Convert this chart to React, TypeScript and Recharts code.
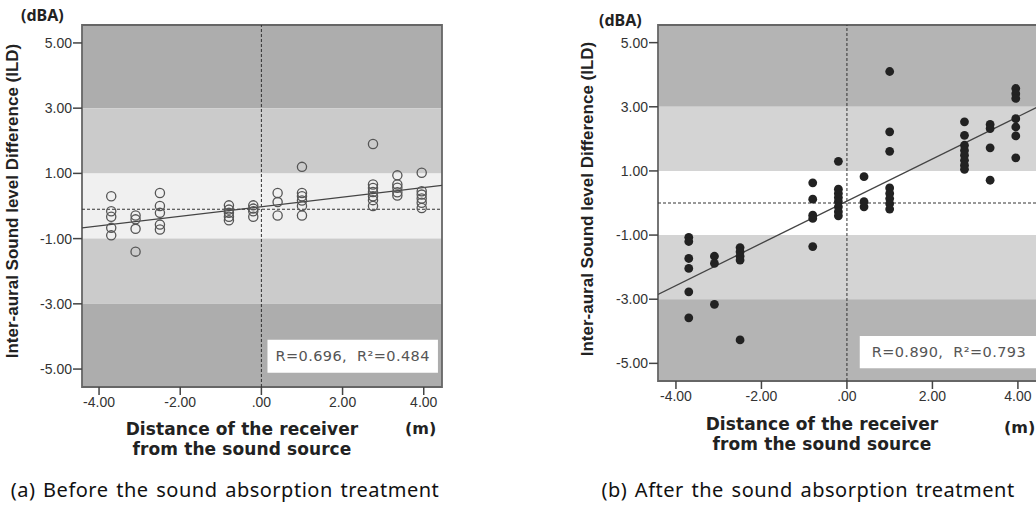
import React from "react";
import {
  ComposedChart,
  Scatter,
  XAxis,
  YAxis,
  ReferenceArea,
  ReferenceLine,
  Label,
} from "recharts";

// ---------- data ----------
const xTicks = [-4, -2, 0, 2, 4];
const xTickLabels = ["-4.00", "-2.00", ".00", "2.00", "4.00"];
const yTicks = [5, 3, 1, -1, -3, -5];
const yTickLabels = ["5.00", "3.00", "1.00", "-1.00", "-3.00", "-5.00"];

const positions = [-3.7, -3.1, -2.5, -0.8, -0.2, 0.4, 1.0, 2.75, 3.35, 3.95];

const beforeValues = [
  [0.3, -0.16, -0.33, -0.67, -0.9],
  [-0.29, -0.41, -0.7, -1.4],
  [0.4, 0.0, -0.21, -0.57, -0.72],
  [0.02, -0.11, -0.21, -0.33, -0.44],
  [0.02, -0.08, -0.16, -0.33],
  [0.4, 0.12, -0.29],
  [1.2, 0.4, 0.3, 0.17, 0.0, -0.29],
  [1.9, 0.66, 0.55, 0.43, 0.3, 0.18, 0.0],
  [0.94, 0.66, 0.56, 0.42, 0.32],
  [1.02, 0.45, 0.35, 0.23, 0.1, -0.06],
];

const afterValues = [
  [-1.07, -1.2, -1.73, -2.04, -2.77, -3.58],
  [-1.66, -1.88, -3.16],
  [-1.39, -1.52, -1.66, -1.78, -4.27],
  [0.63, 0.12, -0.38, -0.48, -1.36],
  [1.3, 0.43, 0.3, 0.17, 0.04, -0.12, -0.27, -0.4],
  [0.82, 0.04, -0.12],
  [4.1, 2.22, 1.61, 0.47, 0.3, 0.14, -0.02, -0.19],
  [2.53, 2.11, 1.8, 1.64, 1.49, 1.33, 1.18, 1.05],
  [2.45, 2.32, 1.72, 0.71],
  [3.57, 3.41, 3.26, 2.63, 2.37, 2.09, 1.41],
];

const beforeFit = [
  { x: -4.42, y: -0.67 },
  { x: 4.45, y: 0.63 },
];
const afterFit = [
  { x: -4.42, y: -2.85 },
  { x: 4.47, y: 3.0 },
];

const bandEdges = [5.55, 3, 1, -1, -3, -5.55];
const beforeBandColors = ["#adadad", "#cbcbcb", "#f0f0f0", "#cbcbcb", "#adadad"];
const afterBandColors = ["#b4b4b4", "#d4d4d4", "#ffffff", "#d4d4d4", "#b4b4b4"];

const beforeStats = "R=0.696,\u00A0 R\u00B2=0.484";
const afterStats = "R=0.890,\u00A0 R\u00B2=0.793";

const toPoints = (vals: number[][]) =>
  positions.flatMap((x, i) => vals[i].map((y) => ({ x, y })));

const beforePts = toPoints(beforeValues);
const afterPts = toPoints(afterValues);

const fmt = (labels: string[], ticks: number[]) => (v: number) => {
  const i = ticks.indexOf(v);
  return i >= 0 ? labels[i] : String(v);
};

const HollowDot = (p: any) => (
  <circle cx={p.cx} cy={p.cy} r={4.6} fill="none" stroke="#555" strokeWidth={1.3} />
);
const FilledDot = (p: any) => (
  <circle cx={p.cx} cy={p.cy} r={4.4} fill="#222" stroke="none" />
);

type PanelProps = {
  pts: { x: number; y: number }[];
  fit: { x: number; y: number }[];
  bandColors: string[];
  stats: string;
  xDomain: [number, number];
  hRef: number;
  box: { x1: number; x2: number; y1: number; y2: number };
  filled: boolean;
  width: number;
  height: number;
  yAxisWidth: number;
  marginBottom: number;
};

const Panel = (p: PanelProps) => {
  const tickStyle = { fill: "#333", fontSize: 14, fontFamily: "Liberation Sans, Arial, sans-serif" };
  return (
    <ComposedChart
      width={p.width}
      height={p.height}
      margin={{ top: 25, right: 10, bottom: p.marginBottom, left: 0 }}
    >
      <XAxis
        type="number"
        dataKey="x"
        domain={p.xDomain}
        ticks={xTicks}
        tickFormatter={fmt(xTickLabels, xTicks)}
        allowDataOverflow
        axisLine={false}
        tickSize={8}
        tickMargin={2}
        tickLine={{ stroke: "#444", strokeWidth: 1.5 }}
        tick={tickStyle}
        height={30}
        interval={0}
      />
      <YAxis
        type="number"
        dataKey="y"
        domain={[-5.55, 5.55]}
        ticks={yTicks}
        tickFormatter={fmt(yTickLabels, yTicks)}
        allowDataOverflow
        axisLine={false}
        tickSize={9}
        tickMargin={1}
        tickLine={{ stroke: "#444", strokeWidth: 1.5 }}
        tick={tickStyle}
        width={p.yAxisWidth}
        interval={0}
      />
      {p.bandColors.map((c, i) => (
        <ReferenceArea
          key={i}
          x1={p.xDomain[0]}
          x2={p.xDomain[1]}
          y1={bandEdges[i + 1]}
          y2={bandEdges[i]}
          fill={c}
          fillOpacity={1}
          stroke="none"
          ifOverflow="extendDomain"
        />
      ))}
      <ReferenceLine x={0} stroke="#333" strokeDasharray="3 2" strokeWidth={1} />
      <ReferenceLine y={p.hRef} stroke="#333" strokeDasharray="3 2" strokeWidth={1} />
      <ReferenceLine
        segment={p.fit}
        stroke="#444"
        strokeWidth={1.3}
        ifOverflow="hidden"
      />
      <ReferenceArea
        x1={p.box.x1}
        x2={p.box.x2}
        y1={p.box.y1}
        y2={p.box.y2}
        fill="#ffffff"
        fillOpacity={1}
        stroke="none"
      >
        <Label
          value={p.stats}
          position="center"
          fill="#555"
          fontSize={14.5}
          fontFamily="DejaVu Sans, sans-serif"
          style={{ letterSpacing: "0.4px" }}
        />
      </ReferenceArea>
      <Scatter
        data={p.pts}
        dataKey="y"
        isAnimationActive={false}
        shape={p.filled ? FilledDot : HollowDot}
      />
      <ReferenceArea
        x1={p.xDomain[0]}
        x2={p.xDomain[1]}
        y1={-5.55}
        y2={5.55}
        fill="none"
        stroke="#666"
        strokeWidth={1.8}
      />
    </ComposedChart>
  );
};

const abs = (s: React.CSSProperties): React.CSSProperties => ({ position: "absolute", ...s });

const labelFont = "Noto Sans, Liberation Sans, sans-serif";
const boldFont = "DejaVu Sans, Liberation Sans, sans-serif";

const xLabelStyle = (cx: number, top: number): React.CSSProperties =>
  abs({
    left: cx,
    top,
    transform: "translateX(-50%)",
    fontSize: 17,
    fontFamily: boldFont,
    fontWeight: 700,
    lineHeight: "20px",
    letterSpacing: "0.1px",
    whiteSpace: "nowrap",
    color: "#222",
  });

const yLabelStyle = (cx: number, cy: number): React.CSSProperties =>
  abs({
    left: cx,
    top: cy,
    transform: "translate(-50%, -50%) rotate(-90deg)",
    whiteSpace: "nowrap",
    fontSize: 17,
    fontWeight: 700,
    fontFamily: "Liberation Sans, Arial, sans-serif",
    lineHeight: "18px",
    color: "#222",
  });

const captionStyle = (cx: number): React.CSSProperties =>
  abs({
    left: cx,
    top: 477,
    transform: "translateX(-50%)",
    whiteSpace: "nowrap",
    fontSize: 20,
    lineHeight: "26px",
    letterSpacing: "0.5px",
    wordSpacing: "2px",
    color: "#111",
  });

const unitStyle = (left: number, top: number): React.CSSProperties =>
  abs({ left, top, fontSize: 16, fontFamily: boldFont, fontWeight: 700, lineHeight: "20px", color: "#222" });

export default function App() {
  return (
    <div
      style={abs({
        left: 0,
        top: 0,
        width: 1036,
        height: 507,
        overflow: "hidden",
        background: "#ffffff",
        fontFamily: labelFont,
        color: "#222",
      })}
    >
      <div style={abs({ left: 0, top: 0 })}>
        <Panel
          pts={beforePts}
          fit={beforeFit}
          bandColors={beforeBandColors}
          stats={beforeStats}
          xDomain={[-4.42, 4.45]}
          hRef={-0.1}
          box={{ x1: 0.15, x2: 4.35, y1: -5.11, y2: -4.1 }}
          filled={false}
          width={452}
          height={507}
          yAxisWidth={82}
          marginBottom={90}
        />
      </div>
      <div style={abs({ left: 570, top: 0 })}>
        <Panel
          pts={afterPts}
          fit={afterFit}
          bandColors={afterBandColors}
          stats={afterStats}
          xDomain={[-4.42, 4.47]}
          hRef={0}
          box={{ x1: 0.3, x2: 4.47, y1: -5.15, y2: -4.15 }}
          filled={true}
          width={478}
          height={507}
          yAxisWidth={88}
          marginBottom={96}
        />
      </div>

      {/* left panel texts */}
      <div style={abs({ left: 21, top: 6, fontSize: 16, fontWeight: 700, lineHeight: "18px" })}>(dBA)</div>
      <div style={yLabelStyle(13, 201)}>Inter-aural Sound level Difference (ILD)</div>
      <div style={xLabelStyle(242, 419)}>Distance of the receiver</div>
      <div style={xLabelStyle(242, 439)}>from the sound source</div>
      <div style={unitStyle(405, 419)}>(m)</div>
      <div style={captionStyle(225)}>(a) Before the sound absorption treatment</div>

      {/* right panel texts */}
      <div style={abs({ left: 599, top: 11, fontSize: 16, fontWeight: 700, lineHeight: "18px" })}>(dBA)</div>
      <div style={yLabelStyle(588, 199)}>Inter-aural Sound level Difference (ILD)</div>
      <div style={xLabelStyle(822, 414)}>Distance of the receiver</div>
      <div style={xLabelStyle(822, 434)}>from the sound source</div>
      <div style={unitStyle(1004, 418)}>(m)</div>
      <div style={captionStyle(808)}>(b) After the sound absorption treatment</div>
    </div>
  );
}
